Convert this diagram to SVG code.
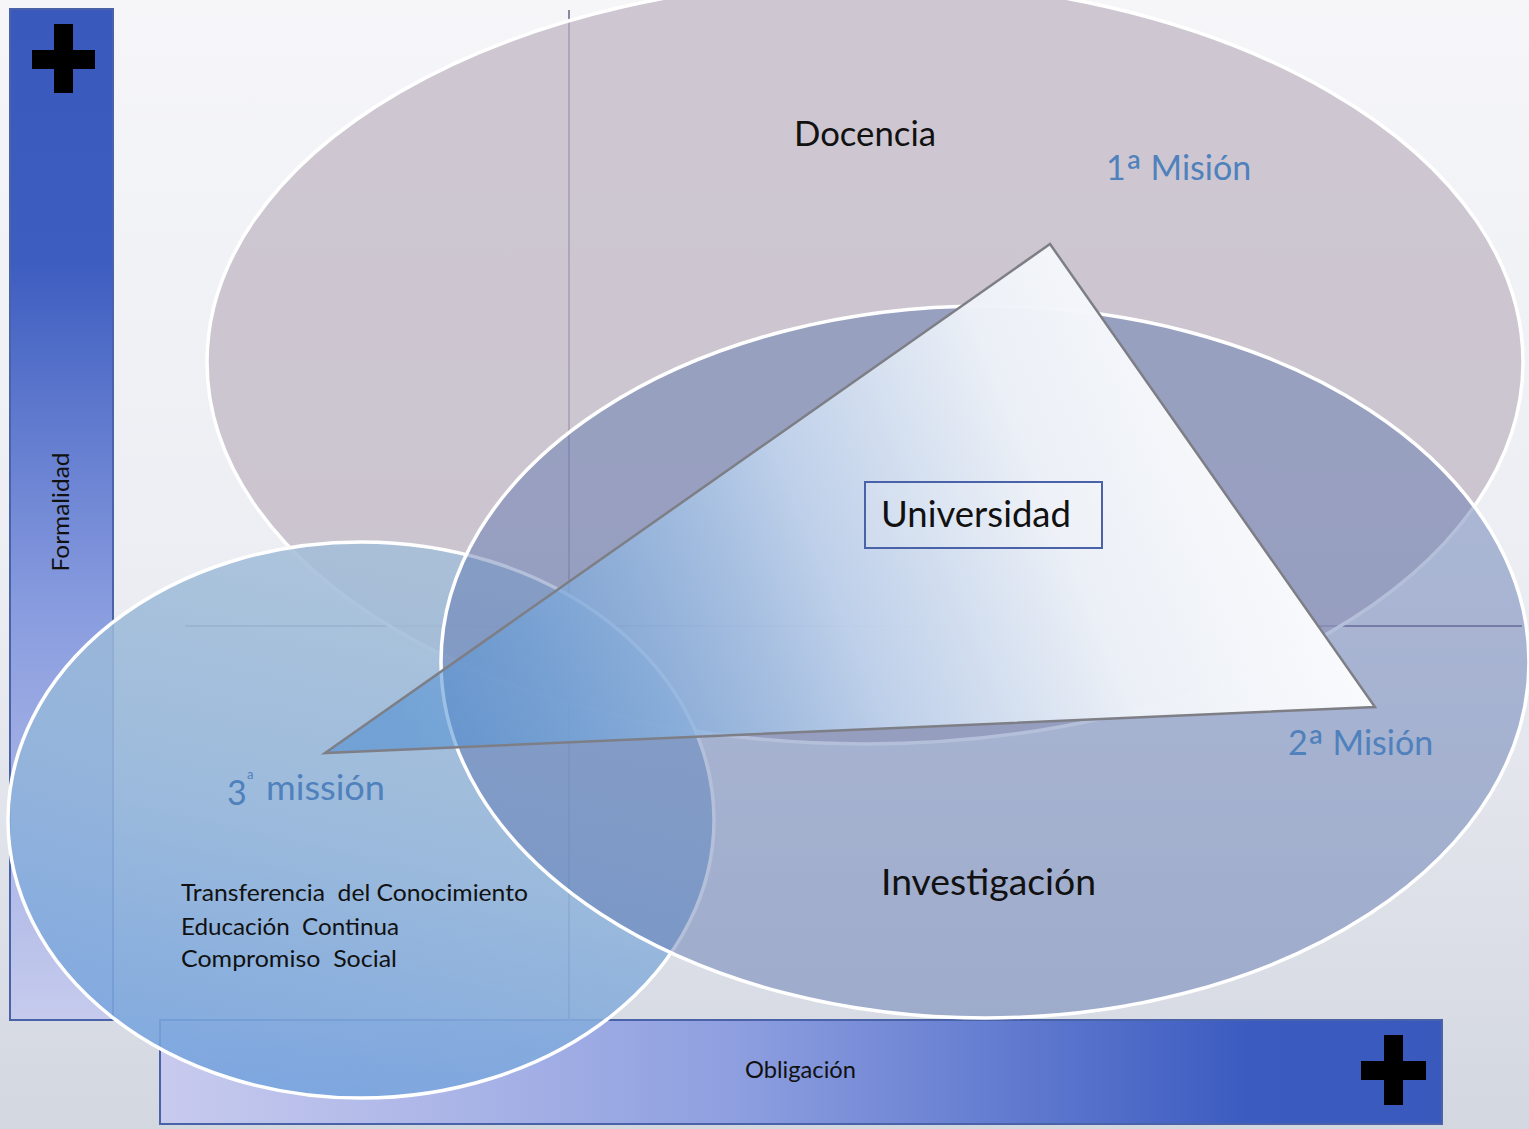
<svg xmlns="http://www.w3.org/2000/svg" width="1529" height="1129" viewBox="0 0 1529 1129">
<defs>
<linearGradient id="bg" x1="0" y1="0" x2="0" y2="1">
<stop offset="0" stop-color="#f6f6f9"/>
<stop offset="0.5" stop-color="#eceef3"/>
<stop offset="1" stop-color="#d3d7e0"/>
</linearGradient>
<linearGradient id="vbar" x1="0" y1="0" x2="0" y2="1">
<stop offset="0" stop-color="#3a59bd"/>
<stop offset="0.25" stop-color="#3d5dc0"/>
<stop offset="0.6" stop-color="#8a9ddf"/>
<stop offset="1" stop-color="#c6cbed"/>
</linearGradient>
<linearGradient id="hbar" x1="0" y1="0" x2="1" y2="0">
<stop offset="0" stop-color="#c8cbee"/>
<stop offset="0.45" stop-color="#8e9fe0"/>
<stop offset="0.85" stop-color="#3b5bc0"/>
<stop offset="1" stop-color="#3a59bd"/>
</linearGradient>
<linearGradient id="g3" x1="0.6" y1="0" x2="0.3" y2="1">
<stop offset="0" stop-color="#a6bfd8"/>
<stop offset="0.5" stop-color="#93b5da"/>
<stop offset="1" stop-color="#74a2de"/>
</linearGradient>
<linearGradient id="tri" x1="0" y1="0.6" x2="1" y2="0.4">
<stop offset="0" stop-color="#4a8bd0" stop-opacity="0.55"/>
<stop offset="0.25" stop-color="#8ab3e0" stop-opacity="0.72"/>
<stop offset="0.45" stop-color="#c2d5ee" stop-opacity="0.9"/>
<stop offset="0.68" stop-color="#eef2f8" stop-opacity="0.97"/>
<stop offset="1" stop-color="#ffffff" stop-opacity="1"/>
</linearGradient>
<style>
.ell{stroke:#ffffff;stroke-width:3.5}
.axis{stroke:#8d87a3;stroke-width:2;fill:none}
.bar{stroke:#4a62a8;stroke-width:2}
.plus{fill:#000000}
.txt{font-family:"Lato","Liberation Sans",sans-serif;fill:#111111}
.mis{font-family:"Lato","Liberation Sans",sans-serif;fill:#4f81bd}
.pre{white-space:pre}
</style>
</defs>
<rect x="0" y="0" width="1529" height="1129" fill="url(#bg)"/>
<g id="bar-formalidad">
<rect class="bar" x="10" y="9" width="103" height="1011" fill="url(#vbar)"/>
<rect class="plus" x="54" y="24" width="19" height="69"/>
<rect class="plus" x="32" y="50" width="63" height="19"/>
<text class="txt" font-size="23" text-anchor="middle" transform="translate(69,512) rotate(-90)" textLength="119" lengthAdjust="spacingAndGlyphs">Formalidad</text>
</g>
<g id="bar-obligacion">
<rect class="bar" x="160" y="1020" width="1282" height="104" fill="url(#hbar)"/>
<rect class="plus" x="1384" y="1035" width="19" height="70"/>
<rect class="plus" x="1361" y="1061" width="65" height="19"/>
<text class="txt" font-size="23" x="745" y="1078" textLength="111" lengthAdjust="spacingAndGlyphs">Obligación</text>
</g>
<g id="connectors">
<line class="axis" x1="569" y1="10" x2="569" y2="1020"/>
<line class="axis" x1="185" y1="626" x2="1522" y2="626"/>
</g>
<g id="docencia">
<ellipse class="ell" cx="865" cy="362" rx="658" ry="382" fill="#bdb3c0" fill-opacity="0.7"/>
<text class="txt" font-size="35" x="794" y="146" textLength="142" lengthAdjust="spacingAndGlyphs">Docencia</text>
</g>
<g id="tercera-mision">
<ellipse class="ell" cx="361" cy="820" rx="353" ry="278" fill="url(#g3)" fill-opacity="0.88"/>
</g>
<g id="investigacion">
<ellipse class="ell" cx="985" cy="662" rx="544" ry="356" fill="#5871ae" fill-opacity="0.45"/>
<text class="txt" font-size="36" x="881" y="895" textLength="215" lengthAdjust="spacingAndGlyphs">Investigación</text>
</g>
<g id="tercera-mision-text">
<text class="mis" font-size="34" x="227" y="805">3</text>
<text class="mis" font-size="13" x="247" y="779">a</text>
<text class="mis" font-size="34" x="266" y="800" textLength="119" lengthAdjust="spacingAndGlyphs">missión</text>
<text class="txt pre" font-size="23" x="181" y="901" textLength="347" lengthAdjust="spacingAndGlyphs">Transferencia  del Conocimiento</text>
<text class="txt pre" font-size="23" x="181" y="935" textLength="218" lengthAdjust="spacingAndGlyphs">Educación  Continua</text>
<text class="txt pre" font-size="23" x="181" y="967" textLength="216" lengthAdjust="spacingAndGlyphs">Compromiso  Social</text>
</g>
<g id="universidad">
<polygon points="1050,244 1375,707 325,753" fill="url(#tri)" stroke="#7e7f86" stroke-width="2.5" stroke-linejoin="miter"/>
<rect x="865" y="482" width="237" height="66" fill="#ffffff" fill-opacity="0.15" stroke="#4a63a8" stroke-width="2"/>
<text class="txt" font-size="37" x="881" y="527" textLength="190" lengthAdjust="spacingAndGlyphs">Universidad</text>
</g>
<g id="labels">
<text class="mis" font-size="34" x="1106" y="180">1<tspan font-size="44" dy="7">ª</tspan><tspan dy="-7"> Misión</tspan></text>
<text class="mis" font-size="34" x="1288" y="755">2<tspan font-size="44" dy="7">ª</tspan><tspan dy="-7"> Misión</tspan></text>
</g>
</svg>
